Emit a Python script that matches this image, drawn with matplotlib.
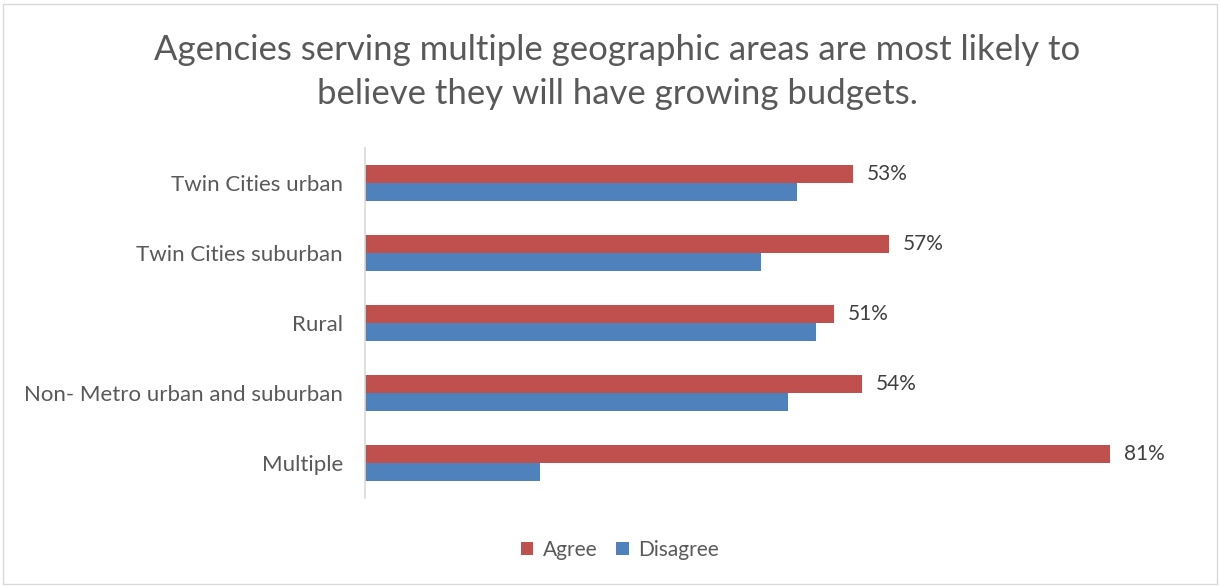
import matplotlib.pyplot as plt
import numpy as np
from matplotlib.patches import Rectangle

plt.rcParams['font.family'] = ['Lato', 'DejaVu Sans']

categories = ["Twin Cities urban", "Twin Cities suburban", "Rural",
              "Non- Metro urban and suburban", "Multiple"]
agree = [53, 57, 51, 54, 81]
disagree = [47, 43, 49, 46, 19]

red = "#C0504D"
blue = "#4F81BD"

fig = plt.figure(figsize=(12.2, 5.86), dpi=100)
ax = fig.add_axes([365 / 1220, 1 - 498 / 586, 828 / 1220, 350 / 586])

y = np.arange(len(categories))
h = 0.257
ax.barh(y - h / 2, agree, height=h, color=red, label="Agree")
ax.barh(y + h / 2, disagree, height=h, color=blue, label="Disagree")

for yi, v in zip(y, agree):
    ax.text(v + 1.5, yi - h / 2, f"{v}%", va="center", ha="left",
            fontsize=15, color="#404040")

ax.set_xlim(0, 90)
ax.set_ylim(len(categories) - 0.5, -0.5)
ax.set_yticks(y)
ax.set_yticklabels(categories, fontsize=16, color="#595959")
ax.tick_params(axis="y", length=0, pad=16)
ax.set_xticks([])
for s in ["top", "right", "bottom"]:
    ax.spines[s].set_visible(False)
ax.spines["left"].set_color("#D9D9D9")
ax.spines["left"].set_linewidth(1.2)

fig.text(0.506, 1 - 72 / 586,
         "Agencies serving multiple geographic areas are most likely to\nbelieve they will have growing budgets.",
         ha="center", va="center", fontsize=25, color="#595959", linespacing=1.45)

fig.legend(loc="center", bbox_to_anchor=(0.508, 1 - 550 / 586), ncol=2,
           frameon=False, fontsize=15, handlelength=0.6, handleheight=0.6,
           handletextpad=0.45, columnspacing=0.9, labelcolor="#595959")

fig.patches.append(Rectangle((3 / 1220, 2 / 586), 1214 / 1220, 580 / 586,
                             transform=fig.transFigure, fill=False,
                             edgecolor="#D9D9D9", linewidth=1))

fig.savefig("out.png", dpi=100)
